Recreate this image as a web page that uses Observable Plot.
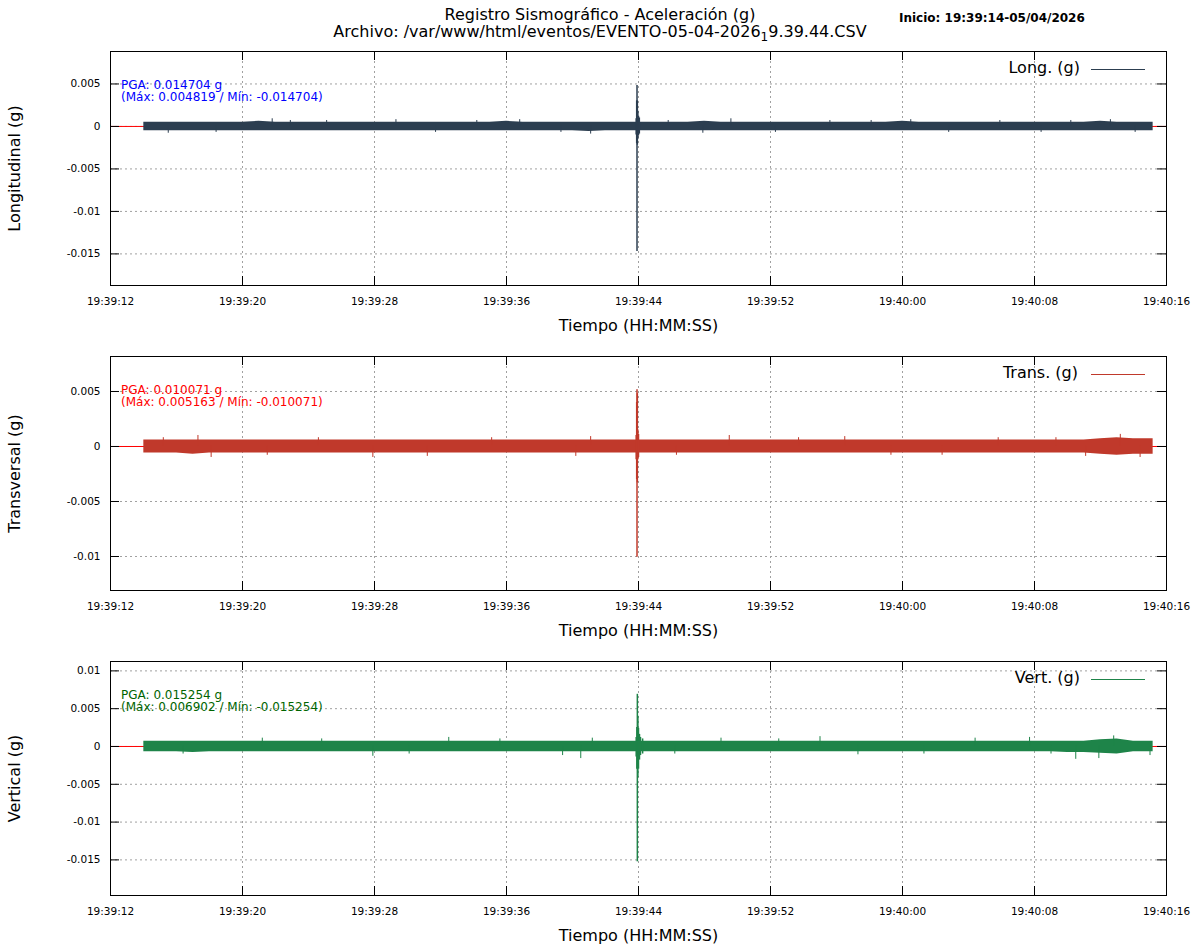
<!DOCTYPE html>
<html><head><meta charset="utf-8">
<script src="https://cdn.jsdelivr.net/npm/d3@7"></script>
<script src="https://cdn.jsdelivr.net/npm/@observablehq/plot@0.6"></script>
<style>
body{margin:0;background:#fff;overflow:hidden;font-family:"DejaVu Sans",sans-serif;}
#root{position:relative;width:1200px;height:950px;background:#fff;}
.ov{position:absolute;white-space:nowrap;color:#000;}
.panel{position:absolute;left:0;}
</style></head><body><div id="root"></div>
<script>
// ---- data ----
const xTicks = [12, 20, 28, 36, 44, 52, 60, 68, 76];
const xTickLabels = ["19:39:12","19:39:20","19:39:28","19:39:36","19:39:44","19:39:52","19:40:00","19:40:08","19:40:16"];
const secs = [14.02,15,16,17,18,19,20,21,22,23,24,25,26,27,28,29,30,31,32,33,34,35,36,37,38,39,40,41,42,43,44,45,46,47,48,49,50,51,52,53,54,55,56,57,58,59,60,61,62,63,64,65,66,67,68,69,70,71,72,73,74,75.19];

const longHi = [0.0005,0.0005,0.0005,0.0005,0.0005,0.0005,0.0005,0.0006,0.0005,0.0005,
 0.0005,0.0005,0.0005,0.0005,0.0005,0.0005,0.0005,0.0005,0.0005,0.0005,
 0.0005,0.0005,0.0006,0.0005,0.0005,0.0005,0.0005,0.0005,0.0005,0.0005,
 0.0005,0.0005,0.0005,0.0005,0.0006,0.0005,0.0005,0.0005,0.0005,0.0005,
 0.0005,0.0005,0.0005,0.0005,0.0005,0.0005,0.0006,0.0005,0.0005,0.0005,
 0.0005,0.0005,0.0005,0.0005,0.0005,0.0005,0.0005,0.0005,0.0006,0.0005,
 0.0005,0.0005];
const longLo = [-0.0005,-0.0005,-0.0005,-0.0005,-0.0005,-0.0005,-0.0005,-0.0005,-0.0005,-0.0005,
 -0.0005,-0.0005,-0.0005,-0.0005,-0.0005,-0.0005,-0.0005,-0.0005,-0.0005,-0.0005,
 -0.0005,-0.0005,-0.0005,-0.0005,-0.0005,-0.0005,-0.0005,-0.0006,-0.0005,-0.0005,
 -0.0005,-0.0005,-0.0005,-0.0005,-0.0005,-0.0005,-0.0005,-0.0005,-0.0005,-0.0005,
 -0.0005,-0.0005,-0.0005,-0.0005,-0.0005,-0.0005,-0.0005,-0.0005,-0.0005,-0.0005,
 -0.0005,-0.0005,-0.0005,-0.0005,-0.0005,-0.0005,-0.0005,-0.0005,-0.0005,-0.0005,
 -0.0005,-0.0005];
const transHi = [0.0006,0.0006,0.0006,0.0006,0.0006,0.0006,0.0006,0.0006,0.0006,0.0006,
 0.0006,0.0006,0.0006,0.0006,0.0006,0.0006,0.0006,0.0006,0.0006,0.0006,
 0.0006,0.0006,0.0006,0.0006,0.0006,0.0006,0.0006,0.0006,0.0006,0.0006,
 0.0006,0.0006,0.0006,0.0006,0.0006,0.0006,0.0006,0.0006,0.0006,0.0006,
 0.0006,0.0006,0.0006,0.0006,0.0006,0.0006,0.0006,0.0006,0.0006,0.0006,
 0.0006,0.0006,0.0006,0.0006,0.0006,0.0006,0.0006,0.0006,0.0007,0.0008,
 0.0007,0.0007];
const transLo = [-0.0006,-0.0006,-0.0006,-0.0007,-0.0006,-0.0006,-0.0006,-0.0006,-0.0006,-0.0006,
 -0.0006,-0.0006,-0.0006,-0.0006,-0.0006,-0.0006,-0.0006,-0.0006,-0.0006,-0.0006,
 -0.0006,-0.0006,-0.0006,-0.0006,-0.0006,-0.0006,-0.0006,-0.0006,-0.0006,-0.0006,
 -0.0006,-0.0006,-0.0006,-0.0006,-0.0006,-0.0006,-0.0006,-0.0006,-0.0006,-0.0006,
 -0.0006,-0.0006,-0.0006,-0.0006,-0.0006,-0.0006,-0.0006,-0.0006,-0.0006,-0.0006,
 -0.0006,-0.0006,-0.0006,-0.0006,-0.0006,-0.0006,-0.0006,-0.0006,-0.0007,-0.0008,
 -0.0007,-0.0007];
const vertHi = [0.0007,0.0007,0.0007,0.0007,0.0007,0.0007,0.0007,0.0007,0.0007,0.0007,
 0.0007,0.0007,0.0007,0.0007,0.0007,0.0007,0.0007,0.0007,0.0007,0.0007,
 0.0007,0.0007,0.0007,0.0007,0.0007,0.0007,0.0007,0.0007,0.0007,0.0007,
 0.0007,0.0007,0.0007,0.0007,0.0007,0.0007,0.0007,0.0007,0.0007,0.0007,
 0.0007,0.0007,0.0007,0.0007,0.0007,0.0007,0.0007,0.0007,0.0007,0.0007,
 0.0007,0.0007,0.0007,0.0007,0.0007,0.0007,0.0007,0.0007,0.0009,0.0010,
 0.0007,0.0007];
const vertLo = [-0.0007,-0.0007,-0.0007,-0.0008,-0.0007,-0.0007,-0.0007,-0.0007,-0.0007,-0.0007,
 -0.0007,-0.0007,-0.0007,-0.0007,-0.0007,-0.0007,-0.0007,-0.0007,-0.0007,-0.0007,
 -0.0007,-0.0007,-0.0007,-0.0007,-0.0007,-0.0007,-0.0007,-0.0007,-0.0007,-0.0007,
 -0.0007,-0.0007,-0.0007,-0.0007,-0.0007,-0.0007,-0.0007,-0.0007,-0.0007,-0.0007,
 -0.0007,-0.0007,-0.0007,-0.0007,-0.0007,-0.0007,-0.0007,-0.0007,-0.0007,-0.0007,
 -0.0007,-0.0007,-0.0007,-0.0007,-0.0007,-0.0007,-0.0008,-0.0008,-0.0009,-0.0010,
 -0.0007,-0.0007];

// event (earthquake pulse) samples
const longEvT  = [43.86, 43.89, 43.91, 43.93, 43.96, 44.00, 44.05];
const longEvHi = [0.0009, 0.0030, 0.004819, 0.0030, 0.0018, 0.0012, 0.0010];
const longEvLo = [-0.0010, -0.0020, -0.014704, -0.0022, -0.0015, -0.0011, -0.0009];
const transEvT  = [43.86, 43.89, 43.91, 43.93, 43.96, 44.00];
const transEvHi = [0.0010, 0.0040, 0.005163, 0.0048, 0.0015, 0.0011];
const transEvLo = [-0.0012, -0.0030, -0.010071, -0.0033, -0.0012, -0.0010];
const vertEvT  = [43.86, 43.90, 43.93, 43.96, 44.00, 44.06, 44.12, 44.25];
const vertEvHi = [0.0012, 0.0025, 0.006902, 0.0040, 0.0024, 0.0016, 0.0012, 0.0010];
const vertEvLo = [-0.0014, -0.0030, -0.015254, -0.0041, -0.0030, -0.0018, -0.0012, -0.0010];

// isolated noise spikes
const longPkT = [15.5, 18.4, 21.8, 22.9, 25.1, 29.3, 31.7, 34.2, 36.8, 39.3, 41.1, 45.8, 47.9, 49.6, 52.3, 55.6, 58.1, 60.5, 62.8, 65.9, 68.4, 70.2, 72.6, 74.1];
const longPkV = [-0.0008, -0.0007, 0.0009, 0.0007, 0.0007, 0.0008, -0.0007, 0.0007, 0.0008, -0.0007, -0.0009, 0.0007, -0.0008, 0.0009, -0.0007, 0.0007, 0.0007, 0.0008, -0.0007, 0.0007, -0.0007, 0.0007, 0.0008, -0.0007];
const transPkT = [15.2, 17.3, 18.1, 21.5, 24.6, 27.9, 31.2, 35.1, 40.2, 41.1, 46.3, 49.5, 53.7, 56.5, 59.3, 62.4, 65.8, 69.3, 71.1, 73.2, 74.4];
const transPkV = [0.0008, 0.0010, -0.0010, -0.0008, 0.0008, -0.0010, -0.0009, 0.0008, -0.0009, 0.0009, -0.0008, 0.0010, 0.0008, 0.0009, -0.0008, -0.0008, 0.0008, 0.0008, -0.0009, 0.0011, -0.0010];
const vertPkT = [16.4, 21.2, 24.8, 27.9, 30.1, 32.5, 35.6, 39.4, 40.5, 41.2, 46.2, 49.0, 52.5, 55.0, 57.3, 61.3, 64.4, 67.7, 69.0, 70.5, 71.9, 72.8, 75.0];
const vertPkV = [-0.0010, 0.0011, 0.0010, -0.0013, -0.0010, 0.0012, 0.0010, -0.0012, -0.0016, 0.0011, -0.0010, 0.0011, 0.0010, 0.0013, -0.0011, -0.0010, 0.0011, 0.0012, -0.0010, -0.0017, -0.0016, 0.0014, -0.0012];

const yTicksLong = [-0.015, -0.01, -0.005, 0, 0.005];
const yTicksTrans = [-0.01, -0.005, 0, 0.005];
const yTicksVert = [-0.015, -0.01, -0.005, 0, 0.005, 0.01];

const panels = [
  {top: 51, ylabel: "Longitudinal (g)", legend: "Long. (g)", color: "#2c3e50", textColor: "#0000ff",
   pga: "PGA: 0.014704 g", mm: "(Máx: 0.004819 / Mín: -0.014704)", legendRight: 1080,
   hi: longHi, lo: longLo, evT: longEvT, evHi: longEvHi, evLo: longEvLo, pkT: longPkT, pkV: longPkV,
   yDomain: [-0.01872, 0.00882], yTicks: yTicksLong},
  {top: 356, ylabel: "Transversal (g)", legend: "Trans. (g)", color: "#c0392b", textColor: "#ff0000",
   pga: "PGA: 0.010071 g", mm: "(Máx: 0.005163 / Mín: -0.010071)", legendRight: 1078,
   hi: transHi, lo: transLo, evT: transEvT, evHi: transEvHi, evLo: transEvLo, pkT: transPkT, pkV: transPkV,
   yDomain: [-0.01309, 0.00818], yTicks: yTicksTrans},
  {top: 661, ylabel: "Vertical (g)", legend: "Vert. (g)", color: "#1e8449", textColor: "#006400",
   pga: "PGA: 0.015254 g", mm: "(Máx: 0.006902 / Mín: -0.015254)", legendRight: 1080,
   hi: vertHi, lo: vertLo, evT: vertEvT, evHi: vertEvHi, evLo: vertEvLo, pkT: vertPkT, pkV: vertPkV,
   yDomain: [-0.01971, 0.01124], yTicks: yTicksVert}
];

const root = document.getElementById("root");
const FRAME_H = 234, MT = 10, MB = 50;

function makePanel(p) {
  const rows = secs.map((t, i) => ({t, hi: p.hi[i], lo: p.lo[i]}));
  const ev = p.evT.map((t, i) => ({t, hi: p.evHi[i], lo: p.evLo[i]}));
  const pk = p.pkT.map((t, i) => ({t, v: p.pkV[i]}));
  const yLen = (p.yDomain[1] - p.yDomain[0]) * 9 / FRAME_H;
  const xLen = (xTicks[xTicks.length - 1] - xTicks[0]) * 9 / 1056;
  const x0 = xTicks[0], x1 = xTicks[xTicks.length - 1];
  const grid = {stroke: "#a0a0a0", strokeOpacity: 1, strokeDasharray: "2,3", strokeWidth: 1};
  return Plot.plot({
    width: 1200, height: MT + FRAME_H + MB,
    marginLeft: 110, marginRight: 34, marginTop: MT, marginBottom: MB,
    style: {fontFamily: "DejaVu Sans, sans-serif", fontSize: "10.5px", background: "white", color: "black"},
    x: {domain: [x0, x1], label: null},
    y: {domain: p.yDomain, label: null},
    marks: [
      Plot.gridX({ticks: xTicks, ...grid}),
      Plot.gridY({ticks: p.yTicks, ...grid}),
      Plot.ruleY([0], {stroke: "#ff0000", strokeWidth: 1}),
      Plot.areaY(rows, {x: "t", y1: "lo", y2: "hi", fill: p.color}),
      Plot.ruleX(pk, {x: "t", y1: 0, y2: "v", stroke: p.color, strokeWidth: 1}),
      Plot.ruleX(ev, {x: "t", y1: "lo", y2: "hi", stroke: p.color, strokeWidth: 1.5}),
      Plot.ruleX(xTicks, {x: d => d, y1: p.yDomain[0], y2: p.yDomain[0] + yLen, stroke: "black"}),
      Plot.ruleX(xTicks, {x: d => d, y1: p.yDomain[1] - yLen, y2: p.yDomain[1], stroke: "black"}),
      Plot.ruleY(p.yTicks, {y: d => d, x1: x0, x2: x0 + xLen, stroke: "black"}),
      Plot.ruleY(p.yTicks, {y: d => d, x1: x1 - xLen, x2: x1, stroke: "black"}),
      Plot.frame({stroke: "black", strokeWidth: 1}),
      Plot.axisX({ticks: xTicks, tickSize: 0, tickPadding: 12, label: null, fontWeight: "normal",
                  tickFormat: d => xTickLabels[xTicks.indexOf(d)]}),
      Plot.axisY({ticks: p.yTicks, tickSize: 0, tickPadding: 10, label: null, tickFormat: d => String(d)}),
      Plot.text([p.ylabel], {frameAnchor: "left", dx: -96, rotate: -90, fontSize: 16, textAnchor: "middle", lineAnchor: "middle", text: d => d}),
      Plot.text(["Tiempo (HH:MM:SS)"], {frameAnchor: "bottom", dy: 40, fontSize: 16, textAnchor: "middle", lineAnchor: "middle", text: d => d})
    ]
  });
}

function ov(html, css) {
  const d = document.createElement("div");
  d.className = "ov";
  d.innerHTML = html;
  Object.assign(d.style, css);
  root.appendChild(d);
  return d;
}

for (const p of panels) {
  const svg = makePanel(p);
  const wrap = document.createElement("div");
  wrap.className = "panel";
  wrap.style.top = (p.top - MT) + "px";
  wrap.appendChild(svg);
  root.appendChild(wrap);
}

// Titles
ov("Registro Sismográfico - Aceleración (g)", {left: "0px", width: "1200px", textAlign: "center", top: "5px", fontSize: "16px", lineHeight: "20px"});
ov("Archivo: /var/www/html/eventos/EVENTO-05-04-2026<sub style='font-size:12px;vertical-align:-4px;line-height:0'>1</sub>9.39.44.CSV",
   {left: "0px", width: "1200px", textAlign: "center", top: "22px", fontSize: "16px", lineHeight: "20px"});
ov("Inicio: 19:39:14-05/04/2026", {left: "899px", top: "10px", fontSize: "12px", fontWeight: "bold", lineHeight: "16px"});

for (const p of panels) {
  ov(p.legend, {right: (1200 - p.legendRight) + "px", top: (p.top + 8) + "px", fontSize: "16px", lineHeight: "18px"});
  ov("", {left: "1091px", width: "54px", top: (p.top + 18) + "px", height: "0px", borderTop: "1px solid " + p.color});
  ov(p.pga, {left: "121px", top: (p.top + 28) + "px", fontSize: "12px", lineHeight: "13px", color: p.textColor});
  ov(p.mm, {left: "121px", top: (p.top + 40) + "px", fontSize: "12px", lineHeight: "13px", color: p.textColor});
}
</script></body></html>
